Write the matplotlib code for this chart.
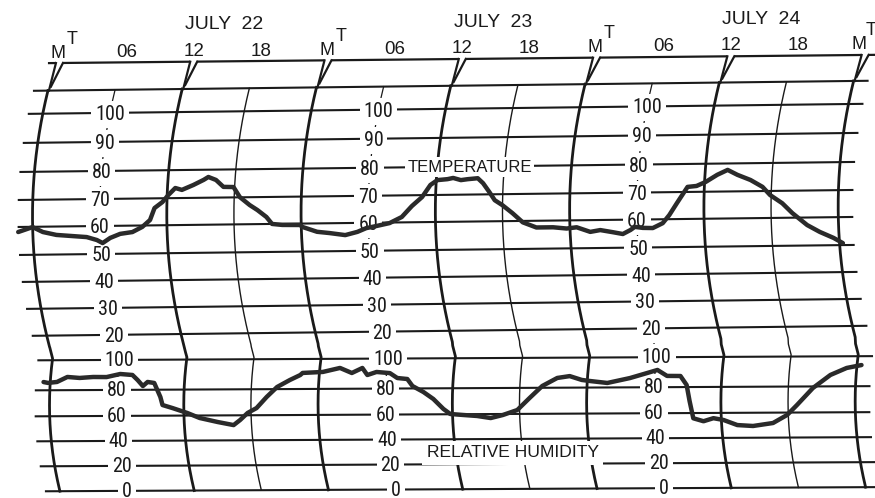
import numpy as np
import matplotlib
matplotlib.use("Agg")
import matplotlib.pyplot as plt
from matplotlib import font_manager

# ---------------- data ----------------
dates = ["JULY 22", "JULY 23", "JULY 24"]
hour_labels = ["06", "12", "18"]
temp_ticks = [100, 90, 80, 70, 60, 50, 40, 30, 20]
rh_ticks = [100, 80, 60, 40, 20, 0]

# hours since midnight July 22 ; temperature (deg F)
temp_hours = [-1.3, 0.0, 0.9, 2.1, 3.6, 4.8, 5.7, 6.2, 6.9, 7.8, 8.9, 9.8, 10.5, 10.9, 11.6,
              12.1, 12.7, 13.3, 14.3, 15.2, 15.6, 16.3, 17.0, 17.9, 18.5, 19.4, 20.1, 20.9,
              21.4, 22.3, 23.9,
              24.1, 25.4, 26.5, 27.9, 29.0, 29.8, 30.7, 31.9, 33.0, 33.9, 34.8, 35.5, 36.1,
              37.0, 37.5, 38.2, 38.8, 39.7, 40.2, 40.8, 41.3, 42.0, 42.9, 43.8, 45.0, 46.5,
              47.7, 48.6,
              49.8, 50.7, 51.8, 52.7, 53.4, 53.8, 54.5, 55.4, 56.3, 56.9, 57.6, 58.5, 59.3,
              60.1, 61.1, 62.0, 62.9, 64.1, 65.2, 65.9, 67.0, 67.9, 69.2, 70.3, 71.5, 72.3]
temp_values = [58.2, 59.9, 58.1, 57.0, 56.5, 56.1, 55.0, 53.9, 55.7, 57.1, 57.7, 59.5, 62.0,
               66.4, 68.6, 71.1, 73.6, 72.9, 74.6, 76.4, 77.4, 76.3, 73.8, 73.7, 70.1, 67.1,
               65.2, 62.6, 60.0, 59.6, 59.5,
               58.8, 57.0, 56.5, 55.7, 56.8, 58.1, 58.8, 59.8, 62.0, 66.0, 69.3, 73.6, 75.3,
               75.6, 76.0, 75.2, 75.5, 75.8, 74.0, 70.8, 67.8, 65.9, 62.9, 59.5, 57.6, 57.6,
               57.1, 57.5,
               55.8, 56.4, 55.6, 54.9, 56.3, 57.4, 57.0, 56.9, 58.6, 61.5, 66.0, 71.8, 72.1,
               73.5, 76.0, 77.7, 75.9, 74.0, 71.5, 68.5, 65.4, 61.7, 57.3, 54.8, 52.6, 50.7]

# hours since midnight July 22 ; relative humidity (%)
rh_hours = [-0.6, -0.2, 0.6, 1.5, 2.6, 3.8, 5.0, 6.2, 7.3, 7.8, 8.3, 8.7, 9.3, 9.9, 10.1,
            11.0, 12.3, 13.4, 15.0, 16.4, 17.0, 17.7, 18.5, 19.4, 20.3, 21.4, 22.3,
            22.5, 24.3, 25.8, 26.9, 27.8, 28.3, 29.1, 30.3, 31.0, 31.9, 32.4, 33.4, 34.3,
            35.2, 35.8, 36.9, 38.2, 39.4, 40.5, 41.8, 42.9, 44.0, 45.3, 46.4, 47.5, 48.2,
            49.8, 51.8, 53.3, 54.2, 55.1, 56.3, 56.9, 57.2, 57.5, 58.4, 59.3, 60.2, 61.4,
            62.8, 64.6, 65.9, 66.8, 68.2, 69.7, 71.1, 72.4]
rh_values = [85.5, 84.9, 85.5, 88.8, 88.1, 88.7, 88.6, 90.6, 89.9, 86.5, 82.5, 85.2, 84.5,
             74.4, 68.2, 65.8, 62.0, 58.0, 54.7, 52.2, 56.2, 61.8, 65.5, 74.0, 81.4, 86.0, 89.3,
             90.7, 91.3, 93.9, 90.5, 93.8, 89.1, 91.1, 90.3, 87.0, 86.3, 81.6, 77.2, 71.8,
             64.1, 60.2, 59.4, 58.5, 56.8, 59.2, 63.0, 72.2, 81.2, 86.5, 87.7, 85.1, 84.4,
             83.0, 86.2, 89.5, 91.5, 87.5, 87.4, 81.4, 69.3, 55.8, 53.4, 55.8, 54.3, 50.2,
             49.4, 51.7, 58.1, 65.8, 78.8, 87.6, 92.2, 94.1]

# ---------------- chart geometry (layout, not data) ----------------
W, H = 875, 498
T_Y = [113, 142, 171, 199, 226, 254, 281, 308, 335]   # chart rows of temp_ticks
RH_Y = [360, 390, 416, 441, 466, 491]                  # chart rows of rh_ticks
FRAME_Y = 90
BAND_Y = 63
PX_PER_HOUR = 11.19
X0 = 32.5
N_HOURS = 72


def arc_off(yb):
    yb = np.asarray(yb, float)
    return np.where(yb <= 358, (yb - 215.0) ** 2 / 1012.0, 17.0 + (yb - 405.0) ** 2 / 710.0)


def tilt_k(yb):
    yb = np.asarray(yb, float)
    return np.where(yb < 75, 0.010, np.where(yb < 347, 0.012, 0.005))


def to_xy(t, yb):
    t = np.asarray(t, float)
    yb = np.asarray(yb, float)
    x = X0 + PX_PER_HOUR * t + arc_off(yb)
    y = yb - tilt_k(yb) * (x - 100.0)
    return x, y


def temp_row(v):
    return np.interp(v, temp_ticks[::-1], T_Y[::-1])


def rh_row(v):
    return np.interp(v, rh_ticks[::-1], RH_Y[::-1])


def has_font(name):
    try:
        font_manager.findfont(font_manager.FontProperties(family=name),
                              fallback_to_default=False)
        return True
    except Exception:
        return False


NARROW = next((f for f in ["Liberation Sans Narrow", "Roboto Condensed", "DejaVu Sans"]
               if has_font(f)), "DejaVu Sans")
LABEL = "Liberation Sans" if has_font("Liberation Sans") else "DejaVu Sans"

INK = "#1a1a1a"
TRACE = "#2a2a2a"

fig = plt.figure(figsize=(W / 100, H / 100), dpi=100)
ax = fig.add_axes([0, 0, 1, 1])
ax.set_xlim(0, W)
ax.set_ylim(H, 0)
ax.axis("off")

# horizontal scale lines
edge = 15.0 / PX_PER_HOUR
for yb in [FRAME_Y] + T_Y + RH_Y:
    xs, ys = to_xy([-edge, N_HOURS + edge], [yb, yb])
    ax.plot(xs, ys, color=INK, lw=1.5, zorder=1, solid_capstyle="butt")

# time arcs
yb_arc = np.unique(np.concatenate([np.linspace(FRAME_Y, RH_Y[-1], 300), [358.0]]))
for h in range(0, N_HOURS + 1, 6):
    xs, ys = to_xy(np.full_like(yb_arc, h), yb_arc)
    if h % 12 == 0:
        ax.plot(xs, ys, color=INK, lw=2.0, zorder=1)
    elif h % 24 == 18:
        ax.plot(xs, ys, color=INK, lw=1.0, zorder=1)
    else:
        ax.plot(xs, ys, color=INK, lw=0.9, zorder=1)

# top band with notches at midnight / noon
notch = []
for h in range(0, N_HOURS + 1, 12):
    xf, yf = to_xy(h, FRAME_Y)
    xf, yf = float(xf), float(yf)
    xl = xf + 8.0
    xr = xf + 15.0
    ytl = BAND_Y - 0.010 * (xl - 60)
    ytr = BAND_Y - 0.010 * (xr - 60)
    ax.plot([xf + 1, xl], [yf, ytl], color=INK, lw=1.6, zorder=1)
    ax.plot([xr, xf + 3], [ytr, yf - 4], color=INK, lw=1.6, zorder=1)
    notch.append((xl, xr))
band_pts = [notch[0][0] - 8] + [p for pair in notch for p in pair] + [W]
for a, b in zip(band_pts[0::2], band_pts[1::2]):
    ax.plot([a, b], [BAND_Y - 0.010 * (a - 60), BAND_Y - 0.010 * (b - 60)],
            color=INK, lw=1.6, zorder=1, solid_capstyle="butt")

# scale labels along the 06 arcs
box = dict(boxstyle="square,pad=0.2", fc="white", ec="none")
for d in range(3):
    h = 6 + 24 * d
    for ticks, rows, dy in ((temp_ticks, T_Y, 1.5), (rh_ticks, RH_Y, 0.5)):
        for v, yb in zip(ticks, rows):
            x, y = to_xy(h, yb)
            ax.text(float(x), float(y) + dy, str(v), ha="center", va="center",
                    fontsize=14.5, family=NARROW, color=INK, bbox=box, zorder=3)

# section titles
x, y = to_xy(38.9, T_Y[2])
ax.text(float(x), float(y) + 0.5, "TEMPERATURE", ha="center", va="center", fontsize=12,
        family=LABEL, color=INK, zorder=3,
        bbox=dict(boxstyle="square,pad=0.15", fc="white", ec="none"))
x, y = to_xy(41.1, (RH_Y[3] + RH_Y[4]) / 2)
ax.text(float(x), float(y) + 1.5, "RELATIVE HUMIDITY", ha="center", va="center",
        fontsize=12.6, family=LABEL, color=INK, zorder=3,
        bbox=dict(boxstyle="square,pad=0.25", fc="white", ec="none"))


# header labels
def header_base(x):
    return 57.8 - 0.011 * (x - 58)


def top_x(h):
    return X0 + PX_PER_HOUR * h + float(arc_off(BAND_Y)) + 4


for d in range(4):
    xm = top_x(24 * d) - 1
    tx_off = 14
    if d == 3:
        xm -= 5
        tx_off = 12
    ax.text(xm, header_base(xm), "M", ha="center", va="baseline", fontsize=13,
            family=LABEL, color=INK)
    ax.text(xm + tx_off, header_base(xm) - 13.5, "T", ha="center", va="baseline",
            fontsize=13, family=LABEL, color=INK)
for d in range(3):
    for i, lab in enumerate(hour_labels):
        xh = top_x(24 * d + 6 * (i + 1))
        ax.text(xh, header_base(xh), lab, ha="center", va="baseline", fontsize=13.5,
                family=LABEL, color=INK)
    xd = top_x(24 * d + 15) - 3
    ax.text(xd, header_base(xd) - 26.5, dates[d].replace(" ", "  "), ha="center",
            va="baseline", fontsize=14, family=LABEL, color=INK)

# traces
tx, ty = to_xy(temp_hours, temp_row(temp_values))
ax.plot(tx, ty, color=TRACE, lw=3.2, zorder=5, solid_joinstyle="round",
        solid_capstyle="round")
rx, ry = to_xy(rh_hours, rh_row(rh_values))
ax.plot(rx, ry, color=TRACE, lw=3.2, zorder=5, solid_joinstyle="round",
        solid_capstyle="round")

fig.savefig("out.png", dpi=100, facecolor="white")
